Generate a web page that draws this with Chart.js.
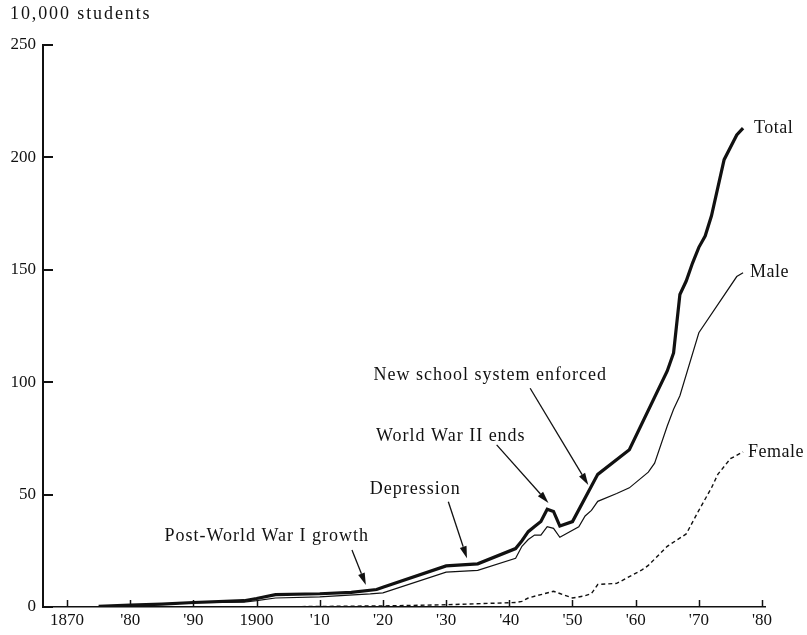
<!DOCTYPE html>
<html>
<head>
<meta charset="utf-8">
<script src="https://cdn.jsdelivr.net/npm/chart.js@4"></script>
<style>
  html, body { margin: 0; padding: 0; background: #fff; }
  #wrap { width: 807px; height: 635px; }
</style>
</head>
<body>
<div id="wrap"><canvas id="chart"></canvas></div>
<script>
// values in units of 10,000 students
const totalYears  = [1875, 1880, 1885, 1890, 1898, 1900, 1903, 1910, 1915, 1919, 1920, 1930, 1935, 1941, 1942, 1943, 1944, 1945, 1946, 1947, 1948, 1950, 1954, 1959, 1965, 1966, 1967, 1968, 1969, 1970, 1971, 1972, 1974, 1976, 1977];
const totalValues = [0.3, 0.8, 1.3, 2.0, 2.8, 3.8, 5.5, 5.9, 6.5, 7.8, 8.8, 18.3, 19.2, 26, 29.5, 33.5, 35.8, 38, 43.5, 42.5, 36, 38, 59, 70, 105, 113, 139, 145, 153, 160, 165, 174, 199, 210, 213];

const maleYears  = [1875, 1880, 1885, 1890, 1898, 1900, 1903, 1910, 1918, 1920, 1930, 1935, 1941, 1942, 1943, 1944, 1945, 1946, 1947, 1948, 1951, 1952, 1953, 1954, 1957, 1959, 1962, 1963, 1965, 1966, 1967, 1970, 1976, 1977];
const maleValues = [0.2, 0.7, 1.2, 1.9, 2.2, 2.8, 4.0, 4.5, 5.8, 6.3, 15.5, 16.3, 21.7, 27, 30, 32, 32, 35.7, 35, 31, 35.7, 40.5, 43, 47, 50.5, 53, 60, 64, 80.5, 88, 94, 122, 147, 148.7];

const femaleYears  = [1875, 1900, 1920, 1930, 1941, 1942, 1943, 1944, 1945, 1947, 1948, 1950, 1952, 1953, 1954, 1957, 1959, 1961, 1962, 1965, 1968, 1970, 1972, 1973, 1975, 1977];
const femaleValues = [0, 0, 0.5, 1, 2, 2.5, 4, 4.8, 5.5, 7, 6, 4, 5, 6, 10, 10.5, 13.5, 16.5, 18.5, 27, 32.5, 43, 53, 59, 66, 69];

const seriesNames = ['Total', 'Male', 'Female'];

const decadeTicks  = [1870, 1880, 1890, 1900, 1910, 1920, 1930, 1940, 1950, 1960, 1970, 1980];
const decadeLabels = ['1870', "'80", "'90", '1900', "'10", "'20", "'30", "'40", "'50", "'60", "'70", "'80"];

const unitLabel = '10,000 students';

// annotations: text centre, arrow start and arrow tip, in data coordinates
const notes = [
  { text: 'Post-World War I growth', at: [1901.6, 31.3], from: [1915.1, 25.4], to: [1917.3, 9.8] },
  { text: 'Depression', at: [1925.1, 52.5], from: [1930.35, 46.8], to: [1933.3, 21.7] },
  { text: 'World War II ends', at: [1930.75, 76], from: [1938.0, 72.1], to: [1946.2, 46.3] },
  { text: 'New school system enforced', at: [1937, 103.2], from: [1943.3, 97.3], to: [1952.5, 54.3] }
];

const pts = (xs, ys) => xs.map((x, i) => ({ x: x, y: ys[i] }));
const ink = '#111';
const serif = '"Liberation Serif", "DejaVu Serif", serif';
const labelGap = [11, 7, 5];

const drawExtras = {
  id: 'drawExtras',
  afterDatasetsDraw(chart) {
    const ctx = chart.ctx;
    const xs = chart.scales.x, ys = chart.scales.y;
    const area = chart.chartArea;
    ctx.save();
    ctx.strokeStyle = ink;
    ctx.fillStyle = ink;

    // inward tick marks
    ctx.lineWidth = 2;
    ys.ticks.forEach(t => {
      const py = Math.round(ys.getPixelForValue(t.value));
      ctx.beginPath();
      ctx.moveTo(area.left, py);
      ctx.lineTo(area.left + 10, py);
      ctx.stroke();
    });
    ctx.lineWidth = 1.5;
    xs.ticks.forEach(t => {
      const px = Math.round(xs.getPixelForValue(t.value)) + 0.5;
      ctx.beginPath();
      ctx.moveTo(px, area.bottom);
      ctx.lineTo(px, area.bottom - 7);
      ctx.stroke();
    });

    ctx.font = '18px ' + serif;
    ctx.letterSpacing = '1.9px';
    ctx.textAlign = 'left';
    ctx.textBaseline = 'middle';
    ctx.fillText(unitLabel, area.left - 33, area.top - 31);

    // series end labels
    ctx.letterSpacing = '0.5px';
    chart.data.datasets.forEach((ds, i) => {
      const last = ds.data[ds.data.length - 1];
      const px = xs.getPixelForValue(last.x);
      const py = ys.getPixelForValue(last.y);
      ctx.fillText(ds.label, px + labelGap[i], py);
    });

    // annotations with arrows
    ctx.letterSpacing = '1px';
    ctx.textAlign = 'center';
    notes.forEach(n => {
      ctx.fillText(n.text, xs.getPixelForValue(n.at[0]), ys.getPixelForValue(n.at[1]));
      const x0 = xs.getPixelForValue(n.from[0]), y0 = ys.getPixelForValue(n.from[1]);
      const x1 = xs.getPixelForValue(n.to[0]), y1 = ys.getPixelForValue(n.to[1]);
      const ang = Math.atan2(y1 - y0, x1 - x0);
      const len = 12, half = 3.5;
      const bx = x1 - len * Math.cos(ang), by = y1 - len * Math.sin(ang);
      ctx.lineWidth = 1.3;
      ctx.beginPath();
      ctx.moveTo(x0, y0);
      ctx.lineTo(bx, by);
      ctx.stroke();
      ctx.beginPath();
      ctx.moveTo(x1, y1);
      ctx.lineTo(bx + half * Math.sin(ang), by - half * Math.cos(ang));
      ctx.lineTo(bx - half * Math.sin(ang), by + half * Math.cos(ang));
      ctx.closePath();
      ctx.fill();
    });
    ctx.restore();
  }
};

new Chart(document.getElementById('chart'), {
  type: 'line',
  data: {
    datasets: [
      { label: seriesNames[0], data: pts(totalYears, totalValues), borderWidth: 3.2, order: 0 },
      { label: seriesNames[1], data: pts(maleYears, maleValues), borderWidth: 1.2, order: 1 },
      { label: seriesNames[2], data: pts(femaleYears, femaleValues), borderWidth: 1.4, borderDash: [4, 3], order: 2 }
    ].map(d => Object.assign({ borderColor: ink, pointRadius: 0, fill: false, tension: 0 }, d))
  },
  options: {
    responsive: true,
    maintainAspectRatio: false,
    animation: false,
    devicePixelRatio: 1,
    layout: { padding: { top: 45, right: 42, bottom: 0, left: 0 } },
    plugins: { legend: { display: false }, tooltip: { enabled: false } },
    scales: {
      x: {
        type: 'linear',
        min: 1866.2,
        max: 1980.47,
        afterBuildTicks: s => { s.ticks = decadeTicks.map(v => ({ value: v })); },
        afterFit: s => { s.height = 28; },
        grid: { display: false, drawTicks: false },
        border: { display: true, color: ink, width: 1.5 },
        ticks: {
          autoSkip: false,
          maxRotation: 0,
          padding: 3,
          color: ink,
          font: { family: serif, size: 17 },
          callback: (v, i) => decadeLabels[i]
        }
      },
      y: {
        min: 0,
        max: 250,
        afterFit: s => { s.width = 43; },
        grid: { display: false, drawTicks: false },
        border: { display: true, color: ink, width: 2 },
        ticks: {
          stepSize: 50,
          padding: 7,
          color: ink,
          font: { family: serif, size: 17 }
        }
      }
    }
  },
  plugins: [drawExtras]
});
</script>
</body>
</html>
